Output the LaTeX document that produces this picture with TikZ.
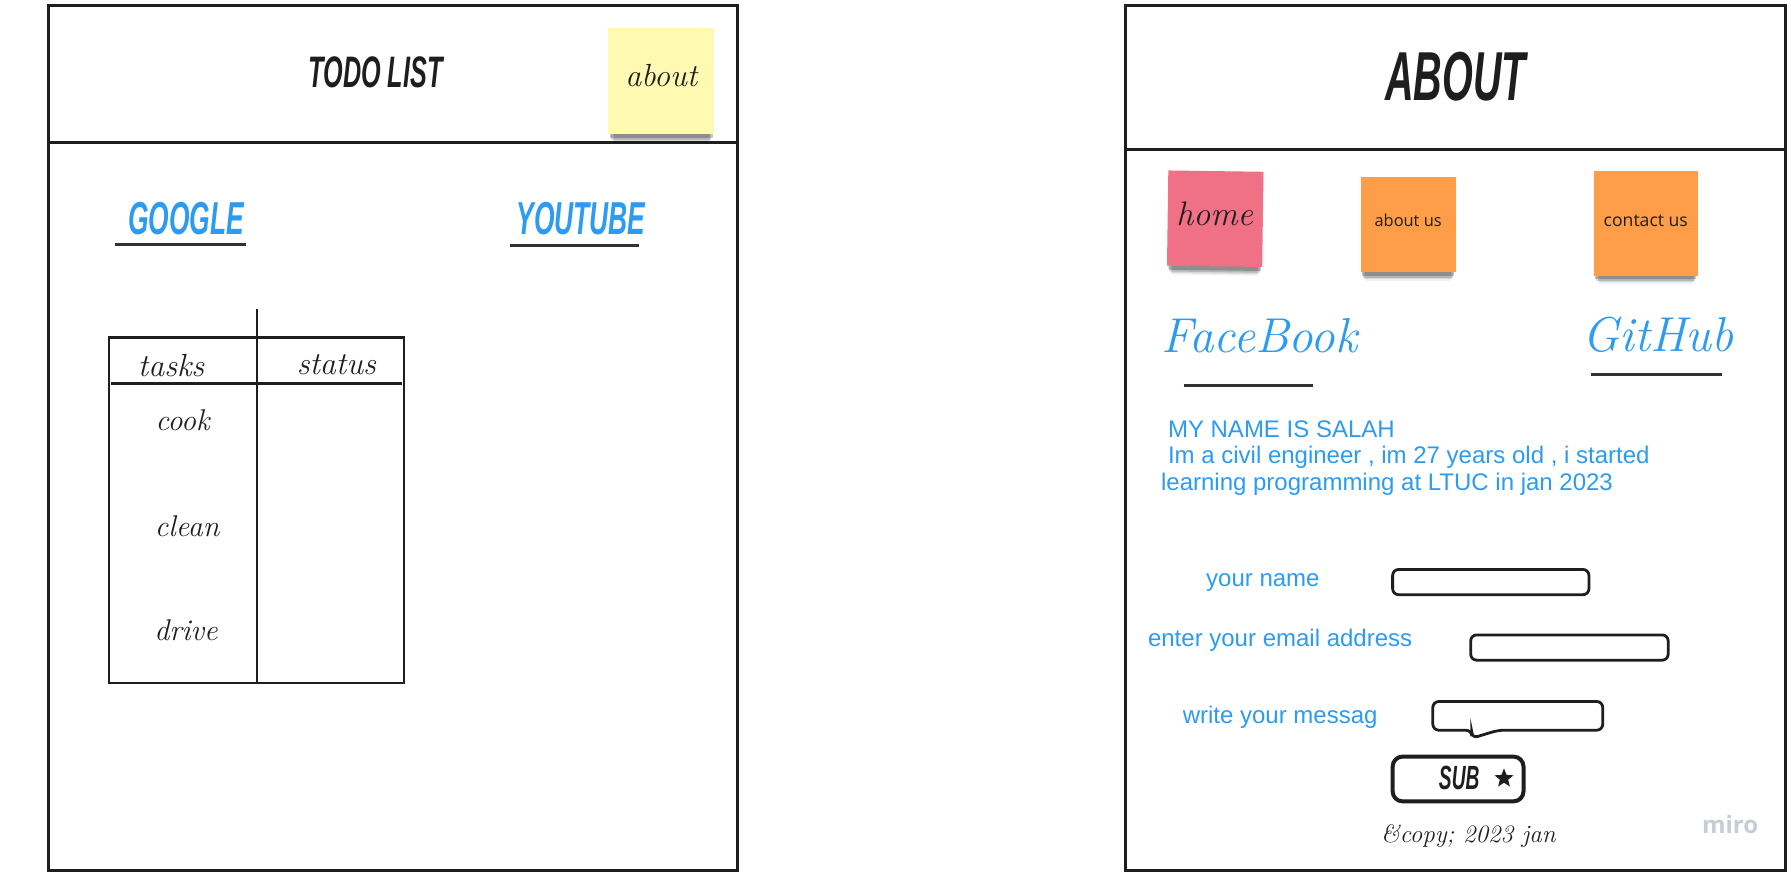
\documentclass[tikz,border=0pt]{standalone}
\usepackage{fontspec}
\usepackage{graphicx}
\usetikzlibrary{shadows,shapes.geometric}
\newfontfamily\arialf{Liberation Sans}
\newfontfamily\opensans{Open Sans}
\newcommand\bangtxt[2]{\scalebox{0.6}[1.05]{\arialf\bfseries\itshape\fontsize{#1}{#1}\selectfont #2}}
\newcommand\handsz[1]{\fontsize{#1}{#1}\selectfont\itshape}
\definecolor{lnk}{RGB}{45,155,240}
\definecolor{ink}{RGB}{30,30,30}
\definecolor{uline}{RGB}{50,50,50}
\definecolor{stickyyellow}{RGB}{255,249,177}
\definecolor{stickypink}{RGB}{240,112,134}
\definecolor{stickyorange}{RGB}{255,157,72}
\definecolor{mirogrey}{RGB}{200,204,214}
\begin{document}
\begin{tikzpicture}[x=0.574pt,y=-0.574pt,
  frame/.style={draw=ink,line width=1.5pt},
  tbl/.style={draw=ink,line width=1.3pt},
  ul/.style={draw=uline,line width=1.6pt},
  inputbox/.style={draw=ink,line width=1.4pt,rounded corners=3pt},
  sticky/.style={inner sep=0pt,
    drop shadow={shadow xshift=0pt,shadow yshift=-7.5pt,shadow scale=0.9,opacity=0.06,fill=black},
    drop shadow={shadow xshift=0pt,shadow yshift=-6pt,shadow scale=0.92,opacity=0.1,fill=black},
    drop shadow={shadow xshift=0pt,shadow yshift=-4.3pt,shadow scale=0.95,opacity=0.15,fill=black},
    drop shadow={shadow xshift=0pt,shadow yshift=-2.8pt,shadow scale=0.97,opacity=0.22,fill=black}},
  hand/.style={inner sep=0pt,text=ink},
  lbl/.style={inner sep=0pt,text=lnk,font=\arialf\fontsize{12}{13.8}\selectfont},
  para/.style={inner sep=0pt,anchor=west,text=lnk,font=\arialf\fontsize{12}{13.8}\selectfont}]
\useasboundingbox (0,0) rectangle (1560,759.6);
\fill[white] (0,0) rectangle (1560,759.6);

% ---------- left page ----------
\draw[frame] (42,5) rectangle (642,758);
\draw[frame] (42,124) -- (642,124);
\node[inner sep=0pt,text=ink] (todo) at (327,63) {\bangtxt{21}{TODO LIST}};
\node[sticky,fill=stickyyellow,minimum width=52.8pt,minimum height=53.4pt] (aboutnote) at (576,70.5) {};
\node[hand,font=\handsz{16}] (aboutt) at (576,66) {about};

\node[inner sep=0pt,text=lnk] (google) at (162,190) {\bangtxt{22}{GOOGLE}};
\draw[ul] (100,213) -- (214,213);
\node[inner sep=0pt,text=lnk] (youtube) at (506,190) {\bangtxt{22}{YOUTUBE}};
\draw[ul] (444,214) -- (557,214);

\draw[tbl] (95,294) rectangle (352,595);
\draw[tbl] (224,269) -- (224,595);
\draw[tbl] (97,334) -- (350,334);
\node[hand,font=\handsz{16}] (tasks) at (149,318) {tasks};
\node[hand,font=\handsz{16}] (status) at (293,318) {status};
\node[hand,font=\handsz{15}] (cook) at (159,366) {cook};
\node[hand,font=\handsz{15}] (clean) at (163,458) {clean};
\node[hand,font=\handsz{15}] (drive) at (162,549) {drive};

% ---------- right page ----------
\draw[frame] (980,5) rectangle (1555,758);
\draw[frame] (980,130) -- (1555,130);
\node[inner sep=0pt,text=ink] (abouth) at (1268,67) {\bangtxt{33}{ABOUT}};

\node[sticky,fill=stickypink,minimum width=47.6pt,minimum height=47.6pt,rotate=-0.8] (homenote) at (1058.5,190.5) {};
\node[hand,font=\handsz{17}] (homet) at (1058,186) {home};
\node[sticky,fill=stickyorange,minimum width=47.6pt,minimum height=47.6pt] (aboutusnote) at (1226.5,195.5) {};
\node[inner sep=0pt,text=ink,font=\opensans\fontsize{8.2}{10}\selectfont] (aboutust) at (1226.5,192) {about us};
\node[sticky,fill=stickyorange,minimum width=52.2pt,minimum height=52.2pt] (contactnote) at (1433.5,194.5) {};
\node[inner sep=0pt,text=ink,font=\opensans\fontsize{8.8}{10}\selectfont] (contactt) at (1433.5,192) {contact us};

\node[inner sep=0pt,text=lnk,font=\handsz{24.5}] (fb) at (1097,292) {FaceBook};
\draw[ul] (1031,336) -- (1144,336);
\node[inner sep=0pt,text=lnk,font=\handsz{24.5}] (gh) at (1444,292) {GitHub};
\draw[ul] (1386,326) -- (1500,326);

\node[para] (p1) at (1017,374) {MY NAME IS SALAH};
\node[para] (p2) at (1017,398) {Im a civil engineer , im 27 years old , i started};
\node[para] (p3) at (1011,422) {learning programming at LTUC in jan 2023};

\node[lbl] (lname) at (1100,507) {your name};
\draw[inputbox] (1213,496) rectangle (1384,518);
\node[lbl] (lmail) at (1115,558) {enter your email address};
\draw[inputbox] (1281,553) rectangle (1453,575);
\node[lbl] (lmsg) at (1115,625) {write your messag};
\draw[inputbox] (1248,611) -- (1396,611) -- (1396,636) -- (1305,636) -- (1282,643) -- (1282,636) -- (1248,636) -- cycle;

\draw[draw=ink,line width=2pt,rounded corners=5pt] (1213,659) rectangle (1327,698);
\node[inner sep=0pt,text=ink] (sub) at (1271,678) {\bangtxt{16}{SUB}};
\node[star,star points=5,star point ratio=2.3,fill=ink,inner sep=0pt,minimum size=10pt] (substar) at (1310,678) {};

\node[hand,font=\handsz{12.5}] (copy) at (1279,728) {\&copy; 2023 jan};
\node[inner sep=0pt,text=mirogrey,font=\opensans\bfseries\fontsize{12}{14}\selectfont] (miro) at (1507,718) {miro};
\end{tikzpicture}
\end{document}
